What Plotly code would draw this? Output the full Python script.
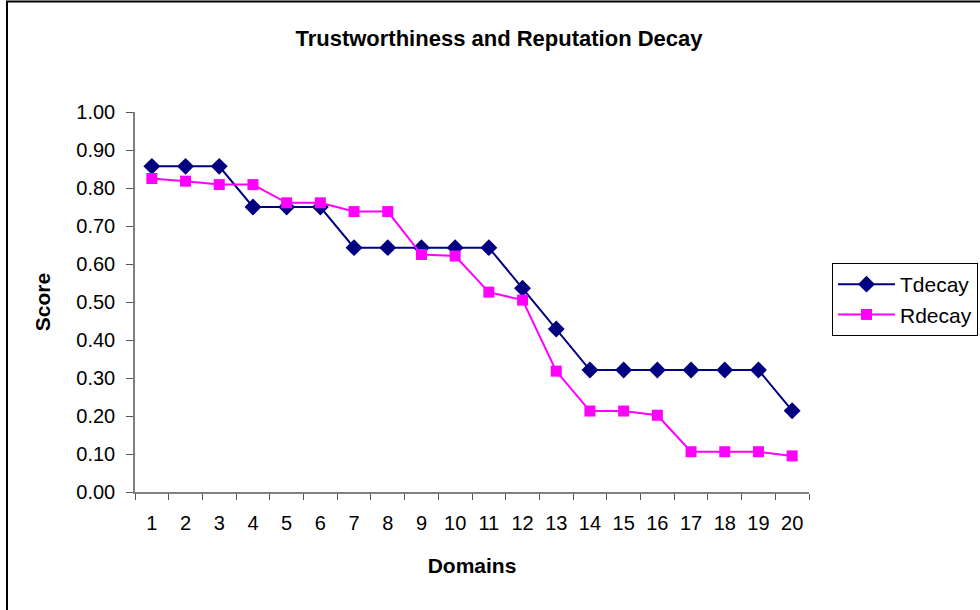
import plotly.graph_objects as go

domains = [str(i) for i in range(1, 21)]
tdecay = [0.857, 0.857, 0.857, 0.750, 0.750, 0.750, 0.643, 0.643, 0.643, 0.643,
          0.643, 0.536, 0.429, 0.321, 0.321, 0.321, 0.321, 0.321, 0.321, 0.214]
rdecay = [0.825, 0.818, 0.809, 0.809, 0.761, 0.761, 0.738, 0.738, 0.625, 0.621,
          0.526, 0.505, 0.318, 0.213, 0.213, 0.202, 0.106, 0.106, 0.106, 0.095]
y_ticks = [round(i * 0.1, 1) for i in range(11)]

FONT = "Liberation Sans, Arial, sans-serif"

fig = go.Figure()
fig.add_trace(go.Scatter(
    x=domains, y=tdecay, name="Tdecay", mode="lines+markers",
    line=dict(color="#000080", width=2),
    marker=dict(symbol="diamond", size=13, color="#000080"),
))
fig.add_trace(go.Scatter(
    x=domains, y=rdecay, name="Rdecay", mode="lines+markers",
    line=dict(color="#FF00FF", width=2),
    marker=dict(symbol="square", size=11, color="#FF00FF"),
))

L, R, T, B = 135, 171, 112, 118
W, H = 980, 610
pw, ph = W - L - R, H - T - B

def px_x(x):
    return (x - L) / pw

def px_y(y):
    return (H - B - y) / ph

fig.update_layout(
    width=W, height=H,
    margin=dict(l=L, r=R, t=T, b=B, pad=0, autoexpand=False),
    paper_bgcolor="white", plot_bgcolor="white",
    font=dict(family=FONT, size=20, color="black"),
    title=dict(text="<b>Trustworthiness and Reputation Decay</b>",
               x=(499 / W), xanchor="center", xref="container",
               y=1 - 38 / H, yanchor="middle", yref="container",
               font=dict(size=22, family=FONT, color="black")),
    xaxis=dict(
        type="category", range=[-0.5, len(domains) - 0.5],
        showgrid=False, zeroline=False,
        showline=True, linecolor="#808080", linewidth=1.5,
        ticks="outside", tickson="boundaries", ticklen=6, tickcolor="#555555",
        tickangle=0, ticklabelstandoff=12,
        title=dict(text="<b>Domains</b>", font=dict(size=21), standoff=26),
    ),
    yaxis=dict(
        range=[0, 1.0], tickvals=y_ticks, tickformat=".2f",
        showgrid=False, zeroline=False,
        showline=True, linecolor="#808080", linewidth=1.5,
        ticks="outside", ticklen=7, tickcolor="#555555",
        ticklabelstandoff=7,
        title=dict(text="<b>Score</b>", font=dict(size=21), standoff=20),
    ),
    legend=dict(
        x=px_x(832), y=px_y(263), xanchor="left", yanchor="top",
        bordercolor="black", borderwidth=1, bgcolor="white",
        font=dict(size=21), itemwidth=57, tracegroupgap=4,
    ),
    showlegend=True,
    shapes=[dict(type="rect", xref="paper", yref="paper",
                 x0=px_x(7), x1=px_x(1000), y0=px_y(630), y1=px_y(1.5),
                 line=dict(color="black", width=2), fillcolor="rgba(0,0,0,0)")],
)

fig.write_html(
    "out.html",
    config={"displayModeBar": False},
    post_script="document.body.style.margin='0';document.body.style.padding='0';"
                "document.body.style.overflow='hidden';",
)
